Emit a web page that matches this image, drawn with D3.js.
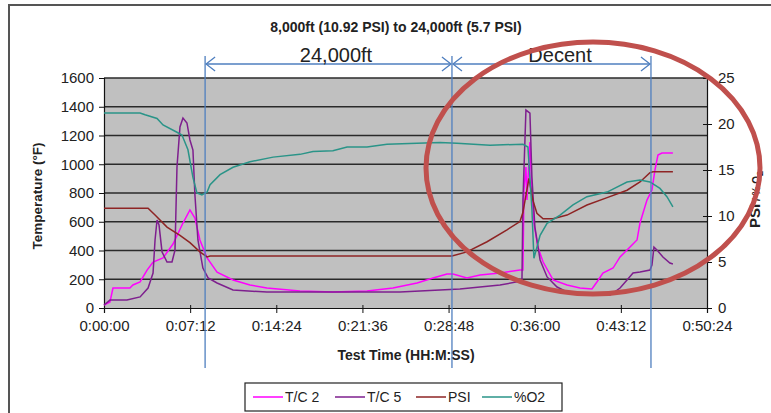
<!DOCTYPE html>
<meta charset="utf-8">
<script src="https://d3js.org/d3.v7.min.js"></script>
<style>
  body { margin: 0; background: #fff; }
  text { font-family: "Liberation Sans", Arial, sans-serif; fill: #222; }
</style>
<body>
<svg width="771" height="413"></svg>
<script>
  // time in seconds, value
  var tc2 = [[0,21],[30,42],[45,139],[130,139],[145,160],[181,181],[216,264],[246,320],[296,348],[346,445],
    [396,591],[431,682],[456,626],[481,473],[517,348],[567,250],[647,195],[732,160],[817,139],[983,118],
    [1148,111],[1319,118],[1449,139],[1570,174],[1650,209],[1720,237],[1750,237],[1820,209],[1886,230],
    [1986,243],[2086,264],[2101,264],[2106,821],[2116,981],[2121,751],[2136,1155],[2146,800],[2156,591],
    [2176,424],[2202,320],[2252,195],[2322,160],[2387,139],[2447,132],[2472,181],[2502,243],[2553,278],
    [2588,355],[2638,424],[2673,473],[2688,591],[2723,751],[2748,821],[2763,960],[2778,1064],[2798,1078],[2853,1078]];

  var tc5 = [[0,21],[30,55],[115,55],[181,77],[221,139],[246,243],[256,473],[266,612],[276,577],[291,390],
    [316,320],[341,320],[356,403],[366,981],[381,1259],[396,1322],[416,1287],[431,1169],[446,1099],[456,786],
    [471,473],[496,278],[522,209],[567,174],[647,125],[817,111],[1484,111],[1785,132],[1986,160],[2096,188],
    [2101,751],[2116,1377],[2136,1356],[2146,911],[2161,563],[2187,334],[2222,216],[2272,146],[2322,111],
    [2387,90],[2538,90],[2588,139],[2623,195],[2653,243],[2688,250],[2738,264],[2748,299],[2758,424],
    [2773,403],[2803,355],[2838,313],[2853,306]];

  var psi = [[0,10.84],[221,10.84],[256,10.1],[316,8.8],[381,7.9],[431,7.1],[481,6.1],[517,5.55],[532,5.65],
    [1745,5.65],[1820,6.1],[1921,7.2],[2021,8.5],[2086,9.4],[2101,10.4],[2131,14.1],[2151,11.7],[2171,10.3],
    [2202,9.7],[2252,9.7],[2322,10.1],[2422,11.2],[2523,12.0],[2623,12.8],[2688,13.7],[2738,14.7],[2753,14.8],[2853,14.8]];

  var o2 = [[0,21.2],[181,21.2],[206,21.0],[266,20.6],[296,19.9],[366,19.1],[391,18.8],[421,17.2],[446,14.2],
    [466,12.5],[491,12.3],[517,12.6],[532,13.4],[582,14.5],[647,15.3],[732,15.9],[848,16.4],[983,16.7],
    [1048,17.0],[1148,17.1],[1219,17.5],[1319,17.5],[1419,17.8],[1570,17.9],[1685,18.0],[1770,17.9],
    [1936,17.7],[2101,17.8],[2126,17.5],[2146,10.7],[2156,5.4],[2187,7.9],[2222,9.2],[2287,10.1],[2352,11.2],
    [2422,12.1],[2523,12.6],[2623,13.7],[2688,13.9],[2738,13.7],[2788,13.0],[2823,12.1],[2853,11.0]];

  var xTicks = [0, 432, 864, 1296, 1728, 2160, 2592, 3024];
  var tempTicks = [0, 200, 400, 600, 800, 1000, 1200, 1400, 1600];
  var rightTicks = [0, 5, 10, 15, 20, 25];
  var markers = [507, 1745, 2743];
  var phases = ["24,000ft", "Decent"];

  var series = [
    {name: "T/C 2", data: tc2, axis: "left", color: "#ff00ff"},
    {name: "T/C 5", data: tc5, axis: "left", color: "#7e1f8e"},
    {name: "PSI", data: psi, axis: "right", color: "#8e2424"},
    {name: "%O2", data: o2, axis: "right", color: "#2a9488"}
  ];

  var svg = d3.select("svg");
  var L = 104, R = 707, T = 78, B = 308;

  var x = d3.scaleLinear().domain([0, 3024]).range([L, R]);
  var yL = d3.scaleLinear().domain([0, 1600]).range([B, T]);
  var yR = d3.scaleLinear().domain([0, 25]).range([B, T]);

  function fmt(s) {
    var h = Math.floor(s / 3600), m = Math.floor(s % 3600 / 60), sec = s % 60;
    return h + ":" + d3.format("02")(m) + ":" + d3.format("02")(sec);
  }

  // frame
  svg.append("rect").attr("x", 9).attr("y", 5).attr("width", 800).attr("height", 430)
    .attr("fill", "none").attr("stroke", "#555").attr("stroke-width", 2);

  svg.append("rect").attr("x", L).attr("y", T).attr("width", R - L).attr("height", B - T)
    .attr("fill", "#c0c0c0");

  svg.append("g").selectAll("line").data(tempTicks.slice(1)).join("line")
    .attr("x1", L).attr("x2", R).attr("y1", d => yL(d)).attr("y2", d => yL(d))
    .attr("stroke", "#2a2a2a").attr("stroke-width", 1.4);

  var gx = svg.append("g").attr("transform", "translate(0," + B + ")")
    .call(d3.axisBottom(x).tickValues(xTicks).tickFormat(fmt).tickSize(5).tickPadding(7));
  var gl = svg.append("g").attr("transform", "translate(" + L + ",0)")
    .call(d3.axisLeft(yL).tickValues(tempTicks).tickFormat(d3.format("d")).tickSize(5).tickPadding(5));
  var gr = svg.append("g").attr("transform", "translate(" + R + ",0)")
    .call(d3.axisRight(yR).tickValues(rightTicks).tickSize(5).tickPadding(6));
  gr.selectAll(".tick line").attr("x1", -4);
  gx.selectAll(".tick line").attr("y1", -3);
  [gx, gl, gr].forEach(function(g) {
    g.select(".domain").attr("stroke", "#111").attr("stroke-width", 1.2);
    g.selectAll(".tick line").attr("stroke", "#111");
    g.selectAll(".tick text").attr("font-size", 15).attr("fill", "#333")
      .attr("font-family", "Liberation Sans, Arial, sans-serif");
  });

  // series
  series.forEach(function(s) {
    var y = s.axis === "left" ? yL : yR;
    svg.append("path").datum(s.data)
      .attr("fill", "none").attr("stroke", s.color).attr("stroke-width", 1.5)
      .attr("d", d3.line().x(d => x(d[0])).y(d => y(d[1])));
  });

  // titles
  svg.append("text").attr("x", 396).attr("y", 32).attr("text-anchor", "middle")
    .attr("font-size", 14).attr("font-weight", "bold").text("8,000ft (10.92 PSI) to 24,000ft (5.7 PSI)");
  svg.append("text").attr("transform", "translate(42,196) rotate(-90)").attr("text-anchor", "middle")
    .attr("font-size", 13.5).attr("font-weight", "bold").text("Temperature (°F)");
  svg.append("text").attr("x", 406).attr("y", 360).attr("text-anchor", "middle")
    .attr("font-size", 14).attr("font-weight", "bold").text("Test Time (HH:M:SS)");
  var rt = svg.append("text").attr("transform", "translate(760,228) rotate(-90)")
    .attr("font-weight", "bold").attr("font-size", 15);
  rt.append("tspan").text("PSI");
  rt.append("tspan").attr("font-size", 10).text(" / % O");
  rt.append("tspan").attr("font-size", 9).attr("dy", 3).text("2");

  // phase markers
  var blue = "#4f7fbf";
  svg.append("g").selectAll("line").data(markers).join("line")
    .attr("x1", d => x(d)).attr("x2", d => x(d)).attr("y1", 56).attr("y2", 368)
    .attr("stroke", blue).attr("stroke-width", 1.3);
  var ay = 64;
  d3.pairs(markers).forEach(function(p, i) {
    var a = x(p[0]) + 1, b = x(p[1]) - 1;
    svg.append("line").attr("x1", a).attr("x2", b).attr("y1", ay).attr("y2", ay)
      .attr("stroke", blue).attr("stroke-width", 1.3);
    svg.append("path").attr("fill", "none").attr("stroke", blue).attr("stroke-width", 1.3)
      .attr("d", "M" + (a + 9) + "," + (ay - 7) + "L" + a + "," + ay + "L" + (a + 9) + "," + (ay + 7)
        + "M" + (b - 9) + "," + (ay - 7) + "L" + b + "," + ay + "L" + (b - 9) + "," + (ay + 7));
    svg.append("text").attr("x", i === 0 ? 336 : 560).attr("y", ay - 2).attr("text-anchor", "middle")
      .attr("font-size", 20).attr("fill", "#222").text(phases[i]);
  });

  // legend
  var lg = svg.append("g");
  lg.append("rect").attr("x", 245).attr("y", 383).attr("width", 317).attr("height", 28)
    .attr("fill", "#fff").attr("stroke", "#222").attr("stroke-width", 1.2);
  var lx = [253, 335, 416, 482];
  series.forEach(function(s, i) {
    lg.append("line").attr("x1", lx[i]).attr("x2", lx[i] + 30).attr("y1", 397).attr("y2", 397)
      .attr("stroke", s.color).attr("stroke-width", 1.5);
    lg.append("text").attr("x", lx[i] + 32).attr("y", 402).attr("font-size", 14).attr("fill", "#333").text(s.name);
  });

  // highlight ellipse
  svg.append("ellipse").attr("cx", 593).attr("cy", 168).attr("rx", 167).attr("ry", 126)
    .attr("fill", "none").attr("stroke", "#c0504d").attr("stroke-width", 5);
</script>
</body>
